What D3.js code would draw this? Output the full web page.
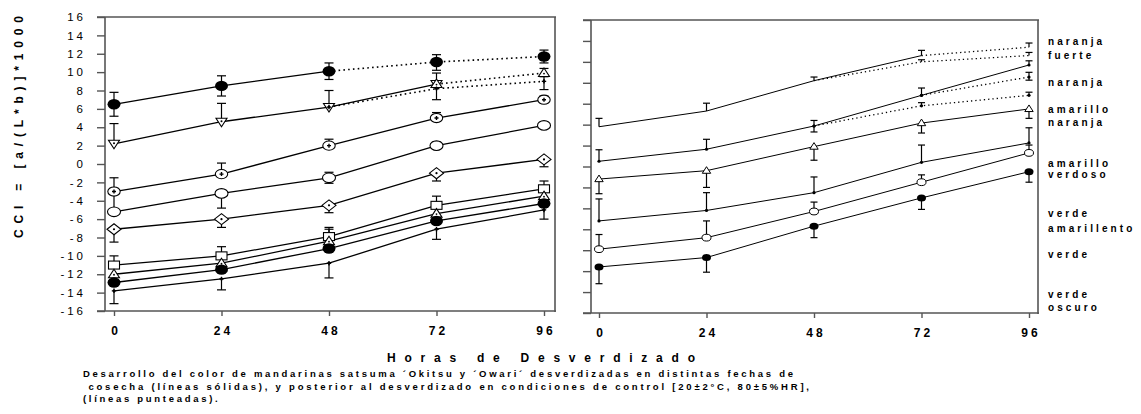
<!DOCTYPE html>
<html><head><meta charset="utf-8">
<script src="https://cdn.jsdelivr.net/npm/d3@7"></script>
<style>
body{margin:0;background:#fff;}
svg{display:block;font-family:"Liberation Sans",Arial,sans-serif;}
</style></head><body>
<svg id="chart" width="1141" height="414"></svg>
<script>
// ---------- data ----------
const hours = [0, 24, 48, 72, 96];
const yTicksLeft = [16,14,12,10,8,6,4,2,0,-2,-4,-6,-8,-10,-12,-14,-16];
const yTicksRight = [12,10,8,6,4,2,0,-2,-4,-6,-8,-10,-12,-14,-16];
const yTickLabels = ["16","14","12","10","8","6","4","2","0","-2","-4","-6","-8","-10","-12","-14","-16"];
const xTickLabels = ["0","24","48","72","96"];

// left panel (CCI)
const L_filledHi      = [6.5, 8.5, 10.1, 11.1, 11.7];
const L_filledHiLo    = [5.2, 7.4, 9.2, 10.2, 11.0];
const L_filledHiHi    = [7.8, 9.6, 11.0, 11.9, 12.4];
const L_triDown       = [2.2, 4.6, 6.2, 8.7, null];
const L_triDownHi     = [4.4, 6.6, 8.0, 9.9, null];
const L_triUpPost     = [null, null, null, 8.7, 9.9];
const L_triUpPostHi   = [null, null, null, null, 10.4];
const L_dotPost       = [null, null, 6.2, 8.2, 9.0];
const L_dotPostLo     = [null, null, null, 7.0, 8.1];
const L_dotPostHi     = [null, null, null, null, 9.5];
const L_circDot       = [-3.0, -1.1, 2.0, 5.0, 7.0];
const L_circDotHi     = [-1.5, 0.1, 2.7, 5.6, 7.4];
const L_open          = [-5.2, -3.2, -1.5, 2.0, 4.2];
const L_openLo        = [null, -4.8, -2.1, null, null];
const L_openHi        = [-3.0, null, -0.9, 2.4, null];
const L_diamond       = [-7.1, -6.0, -4.5, -1.0, 0.5];
const L_diamondLo     = [-8.5, -6.9, -5.3, -1.85, -0.3];
const L_square        = [-11.0, -10.0, -7.9, -4.5, -2.7];
const L_squareHi      = [-10.0, -9.0, -6.9, -3.5, -1.85];
const L_triUp         = [-12.0, -10.8, -8.4, -5.4, -3.5];
const L_triUpHi       = [null, null, -7.1, null, null];
const L_filledLo      = [-12.9, -11.5, -9.2, -6.2, -4.3];
const L_dot           = [-13.8, -12.5, -10.8, -7.1, -5.0];
const L_dotLo         = [-15.2, -13.7, -12.4, -8.2, -6.0];

// right panel
const R_plain         = [1.8, 3.3, 6.2, 8.6, 9.4];
const R_plainHi       = [2.6, 4.05, 6.55, 9.1, 9.8];
const R_plainPost     = [null, null, 6.2, 8.0, 8.6];
const R_plainPostHi   = [null, null, null, 8.2, 8.9];
const R_dot           = [-1.5, -0.35, 1.87, 4.8, 7.7];
const R_dotHi         = [-0.4, 0.6, 2.4, 5.5, 8.1];
const R_dotLo         = [null, null, 1.3, null, null];
const R_dotPostA      = [null, null, null, 4.8, 6.55];
const R_dotPostAHi    = [null, null, null, null, 7.0];
const R_dotPostALo    = [null, null, null, null, 6.25];
const R_dotPostB      = [null, null, 1.87, 3.8, 4.8];
const R_dotPostBHi    = [null, null, null, 4.1, 5.1];
const R_tri           = [-3.2, -2.4, -0.1, 2.15, 3.5];
const R_triLo         = [-4.6, -4.0, -1.4, 1.2, 2.6];
const R_dot2          = [-7.2, -6.2, -4.5, -1.6, 0.25];
const R_dot2Hi        = [-5.1, -4.5, -3.0, 0.05, 1.7];
const R_open          = [-9.9, -8.8, -6.3, -3.5, -0.7];
const R_openHi        = [-8.5, -7.2, -5.4, -2.8, 0.05];
const R_filled        = [-11.6, -10.7, -7.7, -5.0, -2.5];
const R_filledLo      = [-13.2, -12.1, -8.8, -6.1, -3.5];

const colorLabels = ["naranja","fuerte","naranja","amarillo","naranja","amarillo","verdoso","verde","amarillento","verde","verde","oscuro"];
const colorLabelValues = [9.9, 8.65, 6.07, 3.4, 2.25, -1.67, -2.8, -6.5, -7.9, -10.4, -14.2, -15.5];

const yTitle = "CCI = [a/(L*b)]*1000";
const xTitle = "Horas de Desverdizado";
const caption = [
  "Desarrollo del color de mandarinas satsuma \u00B4Okitsu y \u00B4Owari\u00B4 desverdizadas en distintas fechas de",
  " cosecha (l\u00EDneas s\u00F3lidas), y posterior al desverdizado en condiciones de control [20\u00B12\u00B0C, 80\u00B15%HR],",
  "(l\u00EDneas punteadas)."
];

// ---------- series specs ----------
function S(vals, lo, hi, marker, solid, dotted){ return {vals, lo, hi, marker, solid, dotted}; }
const leftSeries = [
  S(L_filledHi, L_filledHiLo, L_filledHiHi, "filled", [0,2], [2,4]),
  S(L_triDown, null, L_triDownHi, "triDown", [0,3], null),
  S(L_triUpPost, null, L_triUpPostHi, "triUp", null, [3,4]),
  S(L_dotPost, L_dotPostLo, L_dotPostHi, "dot", null, [2,4]),
  S(L_circDot, null, L_circDotHi, "circDot", [0,4], null),
  S(L_open, L_openLo, L_openHi, "open", [0,4], null),
  S(L_diamond, L_diamondLo, null, "diamond", [0,4], null),
  S(L_square, null, L_squareHi, "square", [0,4], null),
  S(L_triUp, null, L_triUpHi, "triUp", [0,4], null),
  S(L_filledLo, null, null, "filled", [0,4], null),
  S(L_dot, L_dotLo, null, "dot", [0,4], null)
];
const rightSeries = [
  S(R_plain, null, R_plainHi, "none", [0,3], [3,4]),
  S(R_plainPost, null, R_plainPostHi, "none", null, [2,4]),
  S(R_dot, R_dotLo, R_dotHi, "dotS", [0,4], null),
  S(R_dotPostA, R_dotPostALo, R_dotPostAHi, "dotS", null, [3,4]),
  S(R_dotPostB, null, R_dotPostBHi, "dotS", null, [2,4]),
  S(R_tri, R_triLo, null, "triS", [0,4], null),
  S(R_dot2, null, R_dot2Hi, "dotS", [0,4], null),
  S(R_open, null, R_openHi, "openS", [0,4], null),
  S(R_filled, R_filledLo, null, "filledS", [0,4], null)
];

// ---------- drawing ----------
const svg = d3.select("#chart");
const AX = "#555";

const xL = d3.scaleLinear().domain([0,96]).range([114,544]);
const yL = d3.scaleLinear().domain([-16,16]).range([311,17]);
const xR = d3.scaleLinear().domain([0,96]).range([599,1029]);
const yR = d3.scaleLinear().domain([-16,12]).range([313,20]);

function frame(left, right, top, bottom, tickL){
  const g = svg.append("g");
  g.append("line").attr("x1", left-tickL).attr("x2", right+1).attr("y1", top).attr("y2", top);
  g.append("line").attr("x1", left-tickL).attr("x2", right+1).attr("y1", bottom).attr("y2", bottom);
  g.append("line").attr("x1", left).attr("x2", left).attr("y1", top).attr("y2", bottom);
  g.append("line").attr("x1", right).attr("x2", right).attr("y1", top).attr("y2", bottom+1);
  g.selectAll("line").attr("stroke", AX).attr("stroke-width", 1.6);
}

function axes(x, y, yTicks, yLabels, left, bottom){
  const ya = d3.axisLeft(y).tickValues(yTicks).tickSize(8).tickSizeOuter(0).tickPadding(11)
    .tickFormat((d,i)=> yLabels ? yLabels[i] : "");
  const gy = svg.append("g").attr("transform", `translate(${left},0)`).call(ya);
  gy.select(".domain").remove();
  gy.selectAll("line").attr("stroke", AX).attr("stroke-width", 1.4);
  gy.selectAll("text").attr("font-size", 11.5).attr("fill", "#000")
    .style("letter-spacing", "3px").attr("font-family", "Liberation Sans, Arial, sans-serif");

  const xa = d3.axisBottom(x).tickValues(hours).tickSize(5).tickSizeOuter(0).tickPadding(10)
    .tickFormat((d,i)=> xTickLabels[i]);
  const gx = svg.append("g").attr("transform", `translate(0,${bottom})`).call(xa);
  gx.select(".domain").remove();
  gx.selectAll("line").attr("stroke", AX).attr("stroke-width", 1.4);
  gx.selectAll("text").attr("font-size", 12).attr("font-weight", "bold").attr("fill", "#000")
    .style("letter-spacing", "3px").attr("dx", "1.5px").attr("font-family", "Liberation Sans, Arial, sans-serif");
}

frame(105, 555, 17, 311, 8);
frame(591, 1038, 20, 313, 8);
axes(xL, yL, yTicksLeft, yTickLabels, 105, 311);
axes(xR, yR, yTicksRight, null, 591, 313);

function segs(s, a, b){
  const pts = [];
  for (let i=a;i<=b;i++) if (s.vals[i]!=null) pts.push([hours[i], s.vals[i]]);
  return pts;
}

function drawMarker(g, cx, cy, type){
  const k = "#000";
  switch(type){
    case "filled":
      g.append("ellipse").attr("cx",cx).attr("cy",cy).attr("rx",6.5).attr("ry",5.2).attr("fill",k); break;
    case "open":
      g.append("ellipse").attr("cx",cx).attr("cy",cy).attr("rx",6.5).attr("ry",4.8).attr("fill","#fff").attr("stroke",k).attr("stroke-width",1.1); break;
    case "circDot":
      g.append("ellipse").attr("cx",cx).attr("cy",cy).attr("rx",6.2).attr("ry",4.6).attr("fill","#fff").attr("stroke",k).attr("stroke-width",1.1);
      g.append("path").attr("d",`M${cx-2},${cy}H${cx+2}M${cx},${cy-2}V${cy+2}`).attr("stroke",k).attr("stroke-width",1.4); break;
    case "diamond":
      g.append("path").attr("d",`M${cx-7},${cy}L${cx},${cy-5.5}L${cx+7},${cy}L${cx},${cy+5.5}Z`).attr("fill","#fff").attr("stroke",k).attr("stroke-width",1.1);
      g.append("circle").attr("cx",cx).attr("cy",cy).attr("r",1.1).attr("fill",k); break;
    case "square":
      g.append("rect").attr("x",cx-5.5).attr("y",cy-4).attr("width",11).attr("height",8).attr("fill","#fff").attr("stroke",k).attr("stroke-width",1.1); break;
    case "triUp":
      g.append("path").attr("d",`M${cx},${cy-5}L${cx+5.5},${cy+3.5}L${cx-5.5},${cy+3.5}Z`).attr("fill","#fff").attr("stroke",k).attr("stroke-width",1.1);
      g.append("circle").attr("cx",cx).attr("cy",cy+0.5).attr("r",0.9).attr("fill",k); break;
    case "triDown":
      g.append("path").attr("d",`M${cx},${cy+5}L${cx+5.5},${cy-3.5}L${cx-5.5},${cy-3.5}Z`).attr("fill","#fff").attr("stroke",k).attr("stroke-width",1.1);
      g.append("circle").attr("cx",cx).attr("cy",cy-0.5).attr("r",1).attr("fill",k); break;
    case "dot":
      g.append("path").attr("d",`M${cx-2.2},${cy}H${cx+2.2}M${cx},${cy-2.2}V${cy+2.2}`).attr("stroke",k).attr("stroke-width",1.3);
      g.append("circle").attr("cx",cx).attr("cy",cy).attr("r",1.4).attr("fill",k); break;
    case "filledS":
      g.append("ellipse").attr("cx",cx).attr("cy",cy).attr("rx",4.5).attr("ry",3.5).attr("fill",k); break;
    case "openS":
      g.append("ellipse").attr("cx",cx).attr("cy",cy).attr("rx",4.5).attr("ry",3.4).attr("fill","#fff").attr("stroke",k).attr("stroke-width",1); break;
    case "triS":
      g.append("path").attr("d",`M${cx},${cy-4}L${cx+4.2},${cy+2.6}L${cx-4.2},${cy+2.6}Z`).attr("fill","#fff").attr("stroke",k).attr("stroke-width",1); break;
    case "dotS":
      g.append("circle").attr("cx",cx).attr("cy",cy).attr("r",1.6).attr("fill",k); break;
  }
}

function drawPanel(series, x, y, lw, capW, dash){
  const gl = svg.append("g"), ge = svg.append("g"), gm = svg.append("g");
  const line = d3.line().x(d=>x(d[0])).y(d=>y(d[1]));
  series.forEach(s=>{
    if (s.solid) gl.append("path").attr("d", line(segs(s, s.solid[0], s.solid[1])))
      .attr("fill","none").attr("stroke","#000").attr("stroke-width",lw);
    if (s.dotted) gl.append("path").attr("d", line(segs(s, s.dotted[0], s.dotted[1])))
      .attr("fill","none").attr("stroke","#000").attr("stroke-width",lw+0.3).attr("stroke-dasharray",dash);
  });
  series.forEach(s=>{
    [s.lo, s.hi].forEach(arr=>{
      if (!arr) return;
      arr.forEach((e,i)=>{
        if (e==null || s.vals[i]==null) return;
        const cx = x(hours[i]);
        ge.append("line").attr("x1",cx).attr("x2",cx).attr("y1",y(s.vals[i])).attr("y2",y(e))
          .attr("stroke","#000").attr("stroke-width",1.2);
        ge.append("line").attr("x1",cx-capW/2).attr("x2",cx+capW/2).attr("y1",y(e)).attr("y2",y(e))
          .attr("stroke","#000").attr("stroke-width",1.2);
      });
    });
  });
  series.forEach(s=>{
    s.vals.forEach((v,i)=>{ if (v!=null && s.marker!=="none") drawMarker(gm, x(hours[i]), y(v), s.marker); });
  });
}

drawPanel(leftSeries, xL, yL, 1.3, 9, "1.6,3.2");
drawPanel(rightSeries, xR, yR, 1.0, 7, "1.3,3");

// right-side colour labels
svg.append("g").selectAll("text").data(colorLabels).join("text")
  .attr("x", 1048).attr("y", (d,i)=> yR(colorLabelValues[i]) + 3.5)
  .attr("font-size", 10).attr("font-weight","bold").style("letter-spacing","3.1px")
  .text(d=>d);

// y title
svg.append("text").attr("transform","translate(23,127) rotate(-90)")
  .attr("text-anchor","middle").attr("font-size",12).attr("font-weight","bold")
  .attr("textLength",222).attr("lengthAdjust","spacing").text(yTitle);

// x title
svg.append("text").attr("x",387).attr("y",362).attr("font-size",12).attr("font-weight","bold")
  .attr("textLength",308).attr("lengthAdjust","spacing").text(xTitle);

// caption
const capX = [83, 83, 83];
const capY = [377, 389.5, 401.5];
const capLen = [710, 726, null];
caption.forEach((t,i)=>{
  const tx = svg.append("text").attr("x",capX[i]).attr("y",capY[i]).attr("font-size",9.5)
    .attr("font-weight","bold").attr("xml:space","preserve").style("white-space","pre").text(t);
  if (capLen[i]) tx.attr("textLength",capLen[i]).attr("lengthAdjust","spacing");
  else tx.style("letter-spacing","2.7px");
});
</script>
</body></html>
